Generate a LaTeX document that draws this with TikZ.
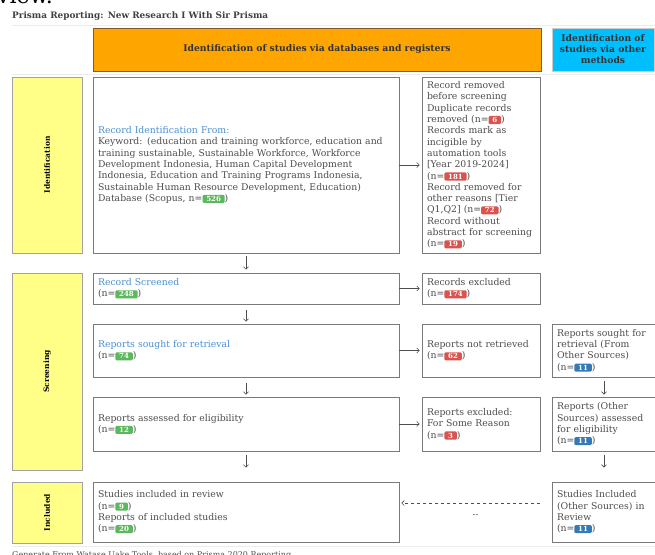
\documentclass[tikz,border=0pt]{standalone}
\usepackage{fontspec}
\setmainfont{DejaVu Serif}
\usetikzlibrary{arrows.meta}

\definecolor{hdrorange}{HTML}{FFA500}
\definecolor{hdrblue}{HTML}{00BFFF}
\definecolor{sideyellow}{HTML}{FFFF88}
\definecolor{boxgray}{HTML}{7A7A7A}
\definecolor{txtgray}{HTML}{4D4D4D}
\definecolor{linkblue}{HTML}{4A8FD4}
\definecolor{badgegreen}{HTML}{5CB85C}
\definecolor{badgered}{HTML}{D9534F}
\definecolor{badgeblue}{HTML}{337AB7}

\newcommand{\nval}[2]{\tikz[baseline=(v.base)] \node (v) [draw=none, fill=#1, text=white, minimum width=0pt, minimum height=0pt, rounded corners=1.2pt, inner xsep=3.8pt, inner ysep=1.4pt, font=\fontsize{7}{7}\selectfont\bfseries] {#2};}
\newcommand{\lnk}[1]{\textcolor{linkblue}{#1}}

\begin{document}
\begin{tikzpicture}[
		x=1pt, y=-1pt,
		box/.style={draw=boxgray, line width=0.8pt, fill=white, inner xsep=5pt, inner ysep=2pt, align=left, text=txtgray, font=\fontsize{9.3}{11.3}\selectfont},
		wide/.style={box, text width=296pt},
		narrow/.style={box, text width=108pt},
		other/.style={box, text width=94pt},
		side/.style={draw=boxgray!70, fill=sideyellow, line width=0.8pt, rotate=90, minimum height=70pt, font=\fontsize{7.5}{8}\selectfont\bfseries, text=black},
		hdr/.style={line width=0.8pt, align=center, minimum height=43pt, font=\fontsize{9.2}{11}\selectfont\bfseries, text=black!80},
		arr/.style={draw=txtgray, line width=0.6pt, -{Straight Barb[length=2.5pt, width=5pt]}}
	]
  \useasboundingbox (0,0) rectangle (655,554);
  \node (prev) [anchor=base west, inner sep=0, font=\fontsize{22}{22}\selectfont] at (-3, 4) {view.};
  \node (title) [anchor=west, inner sep=0, font=\fontsize{8.9}{10}\selectfont\bfseries, text=black!75] at (12, 16) {Prisma Reporting: New Research I With Sir Prisma};
  \draw [gray!15] (12, 25) -- (655, 25);
  \draw [gray!15] (12, 74) -- (655, 74);
  \draw [gray!15] (12, 546) -- (655, 546);
  \node (hdr_db) [hdr, draw=brown!70!black, fill=hdrorange, minimum width=448pt] at (317, 49.5) {Identification of studies via databases and registers};
  \node (hdr_oth) [hdr, draw=gray!40, fill=hdrblue, minimum width=102pt] at (603, 49.5) {Identification of\\studies via other\\methods};
  \node (side_id) [side, minimum width=176pt] at (47, 165) {Identification};
  \node (side_scr) [side, minimum width=197pt] at (47, 371.5) {Screening};
  \node (side_inc) [side, minimum width=61pt] at (47, 512.5) {Included};
  \node (ident) [wide, minimum height=176pt] at (246, 165) {\lnk{Record Identification From:}\\Keyword: (education and training workforce, education and\\training sustainable, Sustainable Workforce, Workforce\\Development Indonesia, Human Capital Development\\Indonesia, Education and Training Programs Indonesia,\\Sustainable Human Resource Development, Education)\\Database (Scopus, n=\nval{badgegreen}{526})};
  \node (removed) [narrow, minimum height=176pt] at (481, 165) {Record removed\\before screening\\Duplicate records\\removed (n=\nval{badgered}{6})\\Records mark as\\incigible by\\automation tools\\{[}Year 2019-2024{]}\\(n=\nval{badgered}{181})\\Record removed for\\other reasons [Tier\\Q1,Q2] (n=\nval{badgered}{72})\\Record without\\abstract for screening\\(n=\nval{badgered}{19})};
  \node (screened) [wide, minimum height=31pt] at (246, 288.5) {\lnk{Record Screened}\\(n=\nval{badgegreen}{248})};
  \node (excluded) [narrow, minimum height=31pt] at (481, 288.5) {Records excluded\\(n=\nval{badgered}{174})};
  \node (sought) [wide, minimum height=53pt] at (246, 350.5) {\lnk{Reports sought for retrieval}\\(n=\nval{badgegreen}{74})};
  \node (notretr) [narrow, minimum height=53pt] at (481, 350.5) {Reports not retrieved\\(n=\nval{badgered}{62})};
  \node (oth_sought) [other, minimum height=53pt] at (604, 350.5) {Reports sought for\\retrieval (From\\Other Sources)\\(n=\nval{badgeblue}{11})};
  \node (assessed) [wide, minimum height=54pt] at (246, 424) {Reports assessed for eligibility\\(n=\nval{badgegreen}{12})};
  \node (excl_rep) [narrow, minimum height=54pt] at (481, 424) {Reports excluded:\\For Some Reason\\(n=\nval{badgered}{3})};
  \node (oth_assessed) [other, minimum height=54pt] at (604, 424) {Reports (Other\\Sources) assessed\\for eligibility\\(n=\nval{badgeblue}{11})};
  \node (included) [wide, minimum height=60pt] at (246, 512) {Studies included in review\\(n=\nval{badgegreen}{9})\\Reports of included studies\\(n=\nval{badgegreen}{20})};
  \node (oth_included) [other, minimum height=60pt] at (604, 512) {Studies Included\\(Other Sources) in\\Review\\(n=\nval{badgeblue}{11})};
  \node (note) [anchor=north west, inner sep=0, font=\fontsize{8}{10}\selectfont, text=txtgray] at (12, 551) {Generate From Watase Uake Tools, based on Prisma 2020 Reporting};
  \draw (ident.south) edge [arr, shorten <=3pt, shorten >=3pt] (screened.north);
  \draw (screened.south) edge [arr, shorten <=6pt, shorten >=2pt] (sought.north);
  \draw (sought.south) edge [arr, shorten <=6pt, shorten >=2pt] (assessed.north);
  \draw (assessed.south) edge [arr, shorten <=4pt, shorten >=14pt] (included.north);
  \draw (oth_sought.south) edge [arr, shorten <=4pt, shorten >=2pt] (oth_assessed.north);
  \draw (oth_assessed.south) edge [arr, shorten <=4pt, shorten >=14pt] (oth_included.north);
  \draw (ident.east) edge [arr, shorten >=2pt] (removed.west);
  \draw (screened.east) edge [arr, shorten >=2pt] (excluded.west);
  \draw (sought.east) edge [arr, shorten >=2pt] (notretr.west);
  \draw (assessed.east) edge [arr, shorten >=2pt] (excl_rep.west);
  \draw ([yshift=9pt]oth_included.west) edge [arr, dashed, shorten <=12pt, shorten >=2pt] node [below=8pt, text=txtgray, font=\fontsize{8.5}{10}\selectfont] {-{}-} ([yshift=9pt]included.east);
\end{tikzpicture}
\end{document}
